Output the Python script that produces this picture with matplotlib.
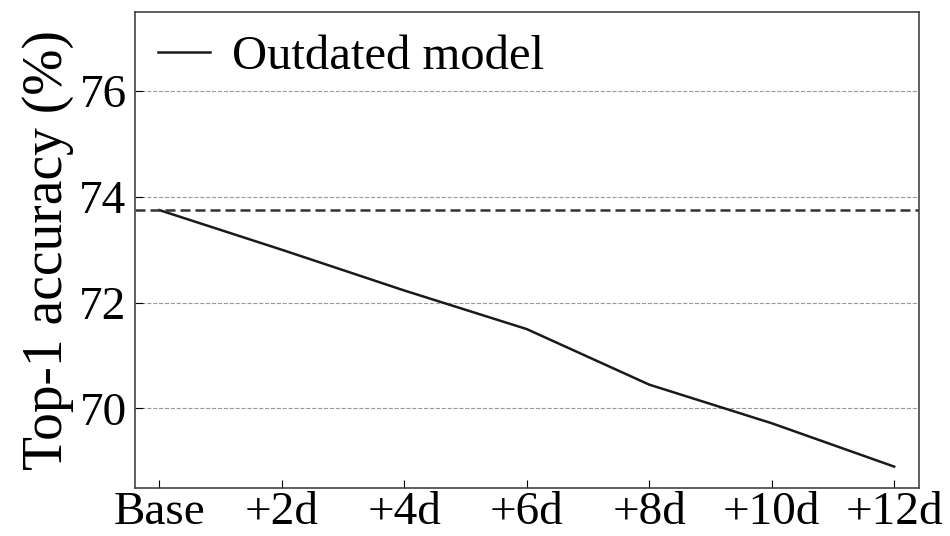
import numpy as np
import matplotlib.pyplot as plt

plt.rcParams['font.family'] = ['Liberation Serif', 'DejaVu Serif']
plt.rcParams['mathtext.fontset'] = 'stix'

# data
labels = ['Base', '+2d', '+4d', '+6d', '+8d', '+10d', '+12d']
outdated = [73.75, 73.0, 72.23, 71.5, 70.45, 69.72, 68.9]
base_acc = 73.75

fig = plt.figure(figsize=(9.5, 5.36), dpi=100)
ax = fig.add_axes([0.142, 0.09, 0.825, 0.888])

x = np.arange(len(labels))
ax.plot(x, outdated, color='#1a1a1a', linewidth=1.8, label='Outdated model')
ax.axhline(base_acc, color='#333333', linestyle=(0, (4, 2)), linewidth=1.8)

ax.set_xlim(-0.2, 6.2)
ax.set_ylim(68.5, 77.5)
ax.set_yticks([70, 72, 74, 76])
ax.set_xticks(x)
ax.set_xticklabels(labels)
ax.grid(axis='y', color='#999999', linestyle='--', linewidth=0.8)
ax.set_axisbelow(True)

ax.tick_params(direction='in', length=6, labelsize=34, pad=6)
ax.tick_params(axis='x', pad=3)
ax.set_ylabel('Top-1 accuracy (%)', fontsize=40, labelpad=4)
for s in ax.spines.values():
    s.set_color('#444444')
    s.set_linewidth(1.2)

ax.legend(loc='upper left', frameon=False, fontsize=35, handlelength=1.07,
          handletextpad=0.45, borderaxespad=0.1, borderpad=0.38)

fig.savefig('out.png', dpi=100)
